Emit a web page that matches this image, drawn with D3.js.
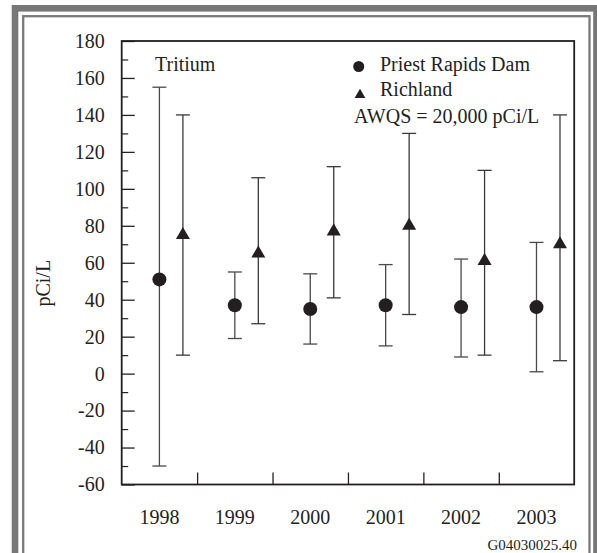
<!DOCTYPE html>
<html><head><meta charset="utf-8">
<script src="https://cdn.jsdelivr.net/npm/d3@7"></script>
<style>
html,body{margin:0;padding:0;background:#fff;}
svg{display:block;font-family:"Liberation Serif","Times New Roman",serif;}
</style></head>
<body>
<svg id="c" width="597" height="553"></svg>
<script>
const years = ["1998","1999","2000","2001","2002","2003"];
const priestValue = [51, 37, 35, 37, 36, 36];
const priestLow   = [-50, 19, 16, 15, 9, 1];
const priestHigh  = [155, 55, 54, 59, 62, 71];
const richValue   = [75, 65, 77, 80, 61, 70];
const richLow     = [10, 27, 41, 32, 10, 7];
const richHigh    = [140, 106, 112, 130, 110, 140];
const yMajorTicks = [-60,-40,-20,0,20,40,60,80,100,120,140,160,180];
const yMinorTicks = [-50,-30,-10,10,30,50,70,90,110,130,150,170];

const svg = d3.select("#c");

// frame
svg.append("rect").attr("x",15).attr("y",8.3).attr("width",581.5).attr("height",600)
  .attr("fill","none").attr("stroke","#777").attr("stroke-width",6.6);
svg.append("rect").attr("x",23.2).attr("y",16.2).attr("width",566.3).attr("height",600)
  .attr("fill","none").attr("stroke","#7a7a7a").attr("stroke-width",2.3);

const L = 121.7, R = 574.2, T = 41, B = 484.5;
const x = d3.scaleBand().domain(years).range([L,R]).paddingInner(0).paddingOuter(0);
const xi = d3.scaleLinear().domain([0,6]).range([L,R]);
const y = d3.scaleLinear().domain([-60,180]).range([B,T]);

const g = svg.append("g");

// minor ticks
g.append("g").attr("transform",`translate(${L},0)`)
  .call(d3.axisLeft(y).tickValues(yMinorTicks).tickSize(-6.5).tickFormat(""))
  .call(s=>s.select(".domain").remove())
  .call(s=>s.selectAll("line").attr("stroke","#222").attr("stroke-width",1.2));
// major ticks + labels
g.append("g").attr("transform",`translate(${L},0)`)
  .call(d3.axisLeft(y).tickValues(yMajorTicks).tickSize(-13).tickPadding(17).tickFormat(d3.format("d")))
  .call(s=>s.select(".domain").remove())
  .call(s=>s.selectAll("line").attr("stroke","#222").attr("stroke-width",1.3))
  .call(s=>s.selectAll("text").attr("font-size",20).attr("fill","#231f20")
     .attr("font-family","'Liberation Serif',serif").text(d=>d<0?"-"+Math.abs(d):d));

// x boundary ticks
g.append("g").attr("transform",`translate(0,${B})`)
  .call(d3.axisBottom(xi).tickValues([1,2,3,4,5]).tickSize(-12).tickFormat(""))
  .call(s=>s.select(".domain").remove())
  .call(s=>s.selectAll("line").attr("stroke","#222").attr("stroke-width",1.3));
// x labels
g.append("g").attr("transform",`translate(0,${B})`)
  .call(d3.axisBottom(x).tickSize(0).tickPadding(25))
  .call(s=>s.select(".domain").remove())
  .call(s=>s.selectAll("text").attr("font-size",20).attr("fill","#231f20")
     .attr("font-family","'Liberation Serif',serif"));

// plot border
g.append("rect").attr("x",L).attr("y",T).attr("width",R-L).attr("height",B-T)
  .attr("fill","none").attr("stroke","#231f20").attr("stroke-width",1.8);

// y label
svg.append("text").attr("transform",`translate(50,${(y(60)+y(40))/2+2}) rotate(-90)`)
  .attr("text-anchor","middle").attr("font-size",20).attr("fill","#231f20").text("pCi/L");

const off = 23.5;
const cx1 = (i)=>x(years[i])+x.bandwidth()/2;
const cx2 = (i)=>x(years[i])+x.bandwidth()/2+off;
const cap = 7;

function errbars(cx, lo, hi, color){
  const eg = g.append("g").attr("stroke",color).attr("stroke-width",1.3).attr("fill","none");
  years.forEach((yr,i)=>{
    const X = cx(i);
    eg.append("line").attr("x1",X).attr("x2",X).attr("y1",y(lo[i])).attr("y2",y(hi[i]));
    eg.append("line").attr("x1",X-cap).attr("x2",X+cap).attr("y1",y(lo[i])).attr("y2",y(lo[i]));
    eg.append("line").attr("x1",X-cap).attr("x2",X+cap).attr("y1",y(hi[i])).attr("y2",y(hi[i]));
  });
}
errbars(cx1, priestLow, priestHigh, "#4a4a4a");
errbars(cx2, richLow, richHigh, "#3a3a3a");

g.append("g").selectAll("circle").data(priestValue).join("circle")
  .attr("cx",(d,i)=>cx1(i)).attr("cy",d=>y(d)).attr("r",7).attr("fill","#231f20");
const tri = d3.symbol().type(d3.symbolTriangle).size(85);
g.append("g").selectAll("path").data(richValue).join("path")
  .attr("transform",(d,i)=>`translate(${cx2(i)},${y(d)})`).attr("d",tri).attr("fill","#231f20");

// annotations
svg.append("text").attr("x",155).attr("y",70.7).attr("font-size",20).attr("fill","#231f20").text("Tritium");
svg.append("circle").attr("cx",358.7).attr("cy",66.5).attr("r",5.5).attr("fill","#231f20");
svg.append("text").attr("x",380).attr("y",70.7).attr("font-size",20).attr("fill","#231f20").text("Priest Rapids Dam");
svg.append("path").attr("transform","translate(360,95)").attr("d",d3.symbol().type(d3.symbolTriangle).size(50)).attr("fill","#231f20");
svg.append("text").attr("x",380).attr("y",95.7).attr("font-size",20).attr("fill","#231f20").text("Richland");
svg.append("text").attr("x",354).attr("y",123).attr("font-size",20).attr("fill","#231f20").text("AWQS = 20,000 pCi/L");

svg.append("text").attr("x",577).attr("y",550).attr("text-anchor","end").attr("font-size",15).attr("fill","#231f20").text("G04030025.40");
</script>
</body></html>
